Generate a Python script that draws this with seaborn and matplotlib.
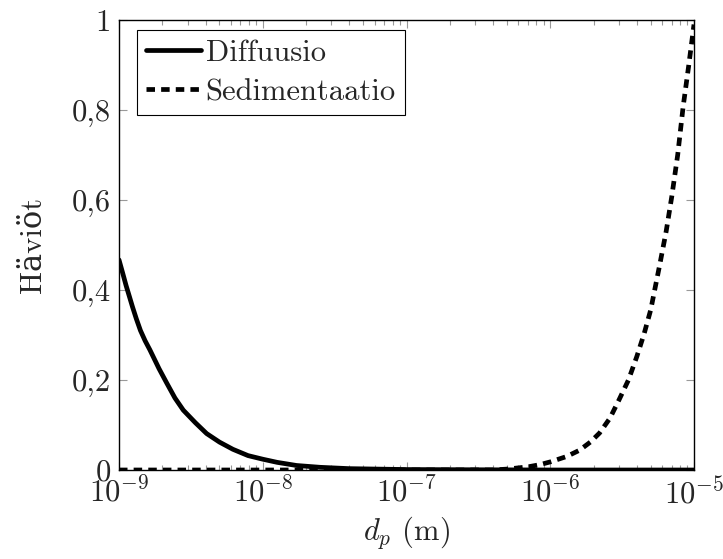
import numpy as np
import pandas as pd
import matplotlib
matplotlib.use("Agg")
import matplotlib.pyplot as plt
import matplotlib.ticker as mticker
import seaborn as sns

# Diffusion losses
diff_dp = [1e-9, 1.06e-9, 1.12e-9, 1.18e-9, 1.24e-9, 1.32e-9, 1.41e-9, 1.52e-9,
           1.64e-9, 1.9e-9, 2.15e-9, 2.45e-9, 2.8e-9, 3.4e-9, 4.07e-9, 5e-9,
           6.2e-9, 7.9e-9, 1e-8, 1.26e-8, 1.72e-8, 2.5e-8, 4e-8, 1e-7, 1e-6, 1e-5]
diff_loss = [0.467, 0.438, 0.41, 0.386, 0.363, 0.336, 0.31, 0.287,
             0.267, 0.225, 0.193, 0.16, 0.133, 0.105, 0.081, 0.062,
             0.046, 0.032, 0.024, 0.017, 0.01, 0.006, 0.003, 0.001, 0.0, 0.0]

# Sedimentation losses
sed_dp = [1e-9, 1e-8, 1e-7, 4e-7, 5e-7, 7e-7, 8.5e-7, 1e-6, 1.3e-6, 1.6e-6,
          1.9e-6, 2.2e-6, 2.6e-6, 3e-6, 3.5e-6, 4e-6, 4.5e-6, 5e-6, 5.8e-6,
          6.4e-6, 7e-6, 7.7e-6, 8.4e-6, 9.2e-6, 1e-5]
sed_loss = [0.0, 0.0, 0.0, 0.0, 0.002, 0.007, 0.012, 0.018, 0.03, 0.044,
            0.062, 0.082, 0.115, 0.155, 0.2, 0.252, 0.303, 0.356, 0.459,
            0.53, 0.607, 0.7, 0.807, 0.9, 0.99]

y_ticks = [0, 0.2, 0.4, 0.6, 0.8, 1]
y_tick_labels = ["0", "0,2", "0,4", "0,6", "0,8", "1"]

sns.set_style("ticks")
plt.rcParams['font.family'] = ['cmr10', 'DejaVu Serif']
plt.rcParams['mathtext.fontset'] = 'cm'
plt.rcParams['axes.formatter.use_mathtext'] = True
plt.rcParams['axes.unicode_minus'] = False

fs = 22

fig = plt.figure(figsize=(7.23, 5.59), dpi=100)
ax = fig.add_axes([119 / 723, 1 - 470 / 559, 575 / 723, 450 / 559])

df_diff = pd.DataFrame({'dp': diff_dp, 'loss': diff_loss})
df_sed = pd.DataFrame({'dp': sed_dp, 'loss': sed_loss})

sns.lineplot(data=df_diff, x='dp', y='loss', ax=ax, color='black',
             linewidth=3.4, label='Diffuusio')
sns.lineplot(data=df_sed, x='dp', y='loss', ax=ax, color='black',
             linewidth=3.4, linestyle=(0, (1.8, 1.3)), label='Sedimentaatio')

ax.set_xscale('log')
ax.set_xlim(1e-9, 1e-5)
ax.set_ylim(0, 1)

ax.set_yticks(y_ticks)
ax.set_yticklabels(y_tick_labels)
ax.xaxis.set_major_locator(mticker.LogLocator(base=10, numticks=10))
ax.xaxis.set_minor_locator(mticker.LogLocator(base=10, subs=np.arange(2, 10), numticks=50))
ax.xaxis.set_minor_formatter(mticker.NullFormatter())

ax.tick_params(which='both', direction='in', top=True, right=True,
               color='#999999', labelsize=fs)
ax.tick_params(axis='y', pad=6)
ax.tick_params(axis='x', pad=5)
ax.tick_params(which='major', length=6, width=0.8)
ax.tick_params(which='minor', length=3.5, width=0.8)
for side in ['left', 'right', 'top', 'bottom']:
    ax.spines[side].set_color('black')
    ax.spines[side].set_linewidth(1.0)

ax.set_xlabel(r'$d_p$ (m)', fontsize=fs, labelpad=3)
ax.set_ylabel('Häviöt', fontsize=fs, labelpad=18)

leg = ax.legend(loc='upper left', bbox_to_anchor=(0.031, 0.978), borderaxespad=0,
                fontsize=fs, frameon=True, fancybox=False, framealpha=1,
                edgecolor='black', handlelength=1.8, handletextpad=0.15,
                borderpad=0.3, labelspacing=0.4)
leg.get_frame().set_linewidth(0.8)

fig.savefig('out.png', dpi=100)
